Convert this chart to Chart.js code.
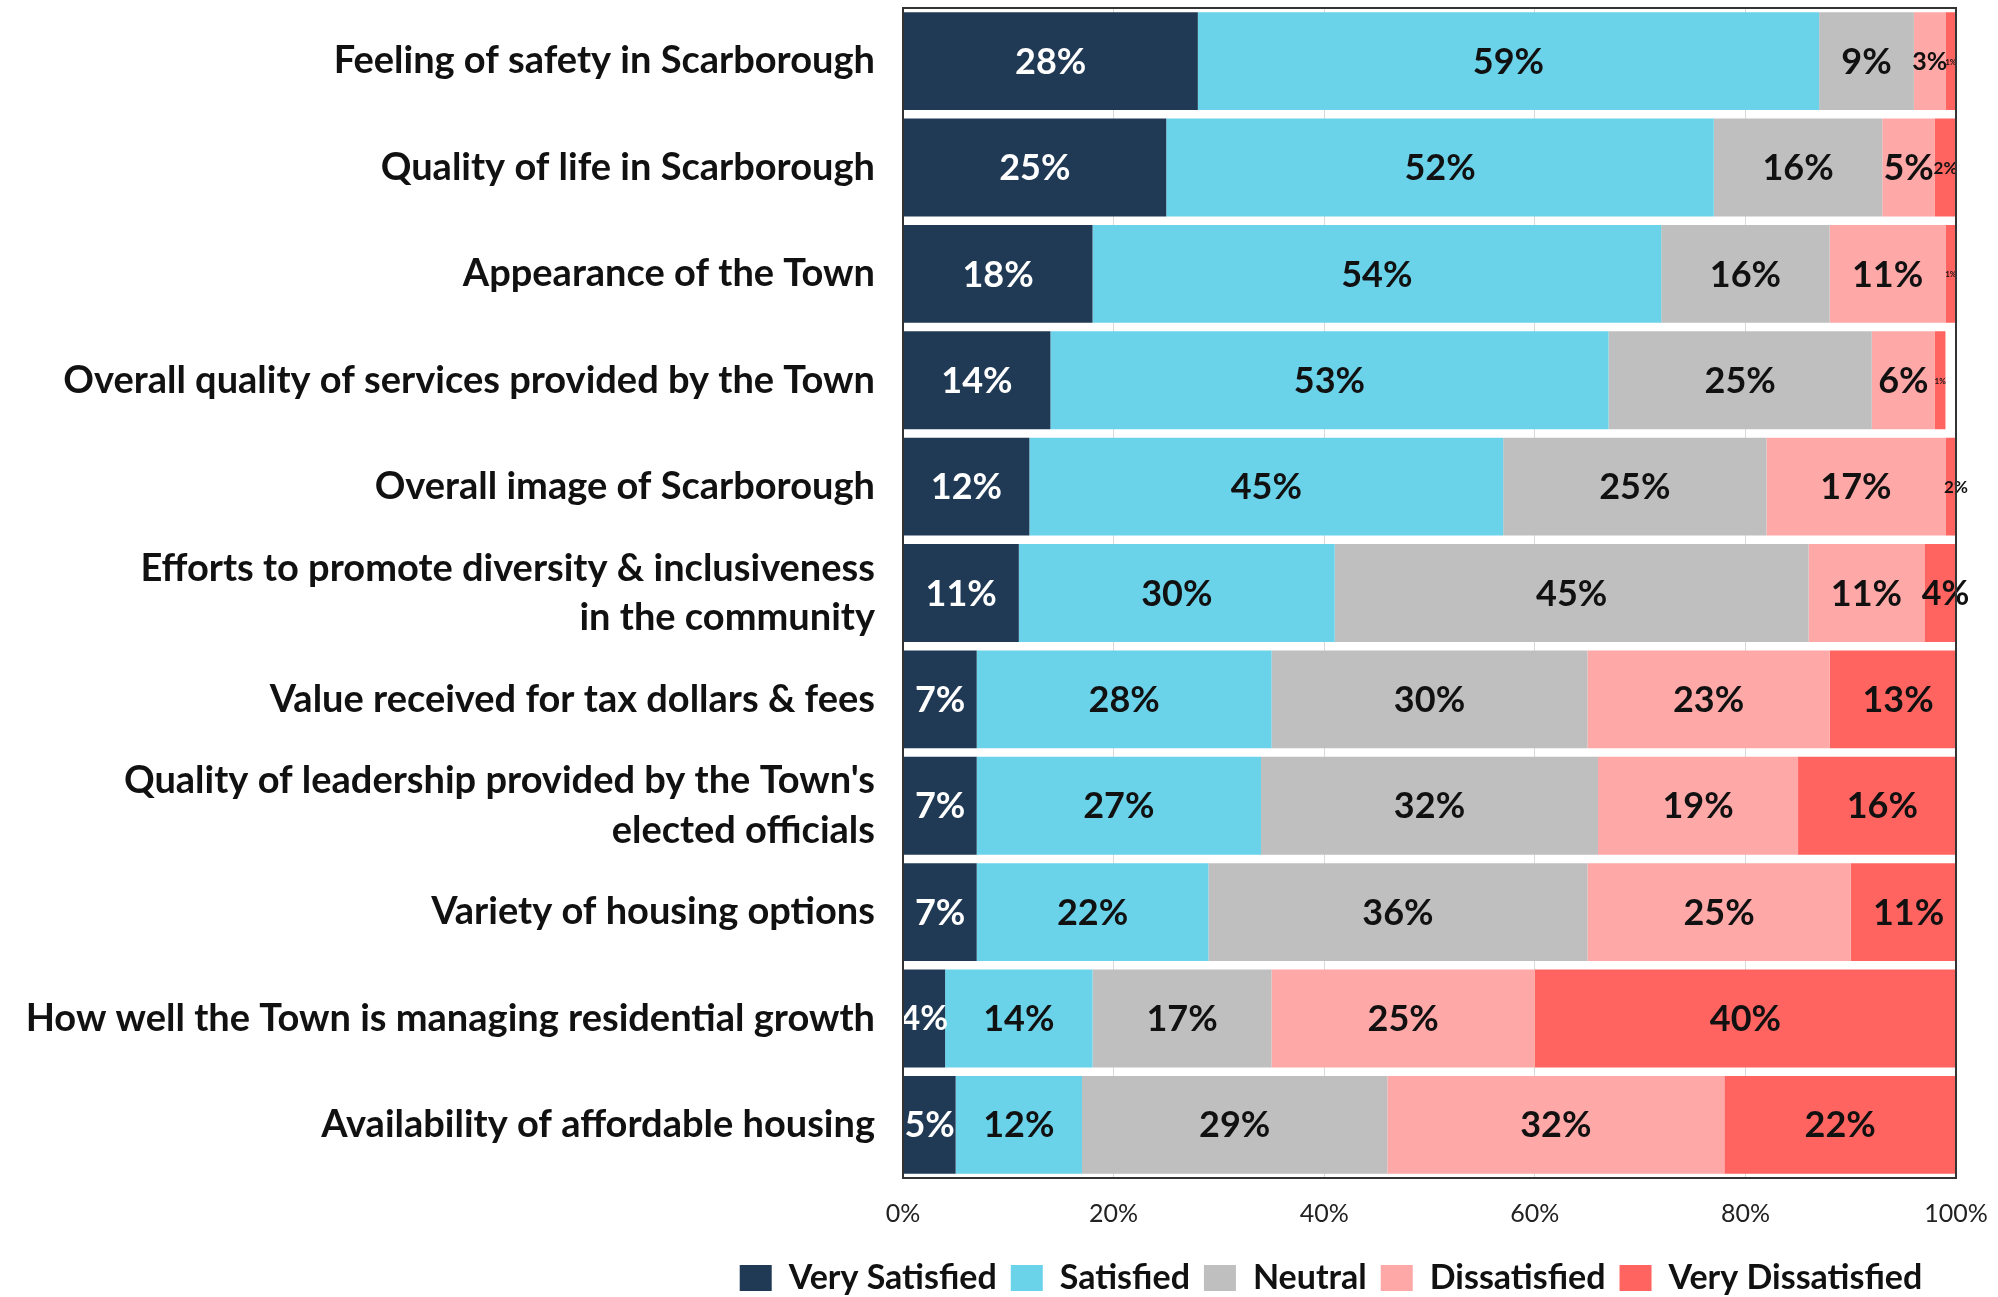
<!DOCTYPE html>
<html>
<head>
<meta charset="utf-8">
<script src="https://cdn.jsdelivr.net/npm/chart.js@4.4.1/dist/chart.umd.min.js"></script>
<style>
    html, body { margin: 0; padding: 0; background: #ffffff; }
    #wrap { width: 1998px; height: 1297px; position: relative; }
</style>
</head>
<body>
<div id="wrap"><canvas id="myBarChart"></canvas></div>
<script>
var categories = [
    "Feeling of safety in Scarborough",
    "Quality of life in Scarborough",
    "Appearance of the Town",
    "Overall quality of services provided by the Town",
    "Overall image of Scarborough",
    ["Efforts to promote diversity & inclusiveness", "in the community"],
    "Value received for tax dollars & fees",
    ["Quality of leadership provided by the Town's", "elected officials"],
    "Variety of housing options",
    "How well the Town is managing residential growth",
    "Availability of affordable housing"
];

var verySatisfied = [28, 25, 18, 14, 12, 11, 7, 7, 7, 4, 5];
var satisfied = [59, 52, 54, 53, 45, 30, 28, 27, 22, 14, 12];
var neutral = [9, 16, 16, 25, 25, 45, 30, 32, 36, 17, 29];
var dissatisfied = [3, 5, 11, 6, 17, 11, 23, 19, 25, 25, 32];
var veryDissatisfied = [1, 2, 1, 1, 2, 4, 13, 16, 11, 40, 22];

var seriesNames = ["Very Satisfied", "Satisfied", "Neutral", "Dissatisfied", "Very Dissatisfied"];
var seriesColors = ["#203a55", "#6ad3ea", "#bfbfbf", "#ffa8a8", "#ff6460"];
var labelColors = ["#ffffff", "#111111", "#111111", "#111111", "#111111"];
var xTicks = [0, 20, 40, 60, 80, 100];

var FONT = "Lato, 'Open Sans', sans-serif";

// value labels inside each bar segment, shrunk when the segment is narrow
var barLabels = {
    id: "barLabels",
    afterDatasetsDraw: function (chart) {
        var ctx = chart.ctx;
        ctx.save();
        ctx.textAlign = "center";
        ctx.textBaseline = "middle";
        chart.data.datasets.forEach(function (ds, i) {
            var meta = chart.getDatasetMeta(i);
            meta.data.forEach(function (bar, j) {
                var txt = ds.data[j] + "%";
                var w = Math.abs(bar.x - bar.base);
                var size = 36;
                ctx.font = "bold " + size + "px " + FONT;
                var tw = ctx.measureText(txt).width;
                if (tw > w * 1.15) {
                    size = Math.max(8, Math.floor(size * w * 1.15 / tw));
                    ctx.font = "bold " + size + "px " + FONT;
                }
                ctx.fillStyle = labelColors[i];
                ctx.fillText(txt, (bar.x + bar.base) / 2, bar.y + 1);
            });
        });
        ctx.restore();
    }
};

// dark frame round the plot area
var plotFrame = {
    id: "plotFrame",
    afterDatasetsDraw: function (chart) {
        var a = chart.chartArea;
        var ctx = chart.ctx;
        ctx.save();
        ctx.strokeStyle = "#333333";
        ctx.lineWidth = 2;
        ctx.strokeRect(a.left, a.top, a.right - a.left, a.bottom - a.top);
        ctx.restore();
    }
};

// legend in the reference sits right of centre
var legendShift = {
    id: "legendShift",
    afterLayout: function (chart) {
        chart.legend.left += 353;
        chart.legend.right += 353;
    }
};

function drawChart() {
    var allSeries = [verySatisfied, satisfied, neutral, dissatisfied, veryDissatisfied];
    var datasets = allSeries.map(function (vals, i) {
        return {
            label: seriesNames[i],
            data: vals,
            backgroundColor: seriesColors[i],
            borderWidth: 0,
            barPercentage: 1.0,
            categoryPercentage: 0.92
        };
    });

    var ctx = document.getElementById("myBarChart").getContext("2d");
    var myBarChart = new Chart(ctx, {
        type: "bar",
        data: {
            labels: categories,
            datasets: datasets
        },
        options: {
            indexAxis: "y",
            responsive: true,
            maintainAspectRatio: false,
            animation: false,
            layout: {
                padding: { top: 8, right: 42, left: 0, bottom: -8 }
            },
            scales: {
                x: {
                    stacked: true,
                    min: 0,
                    max: 100,
                    afterBuildTicks: function (scale) {
                        scale.ticks = xTicks.map(function (v) { return { value: v }; });
                    },
                    afterFit: function (scale) {
                        scale.height = 69;
                        scale.paddingLeft = 0;
                        scale.paddingRight = 0;
                    },
                    ticks: {
                        callback: function (v) { return v + "%"; },
                        color: "#222222",
                        padding: 21,
                        font: { family: FONT, size: 25 }
                    },
                    grid: { color: "#d9d9d9", lineWidth: 1, drawTicks: false },
                    border: { display: false }
                },
                y: {
                    stacked: true,
                    afterFit: function (scale) {
                        scale.width = 903;
                        scale.paddingTop = 0;
                        scale.paddingBottom = 0;
                    },
                    ticks: {
                        color: "#111111",
                        padding: 28,
                        font: { family: FONT, size: 38, weight: "bold", lineHeight: 1.3 }
                    },
                    grid: { display: false, drawTicks: false },
                    border: { display: false }
                }
            },
            plugins: {
                legend: {
                    position: "bottom",
                    labels: {
                        boxWidth: 32,
                        boxHeight: 26,
                        padding: 14,
                        color: "#111111",
                        font: { family: FONT, size: 34, weight: "bold" }
                    }
                },
                tooltip: { enabled: false }
            }
        },
        plugins: [barLabels, plotFrame, legendShift]
    });
}

window.onload = function () {
    drawChart();
};
</script>
</body>
</html>
